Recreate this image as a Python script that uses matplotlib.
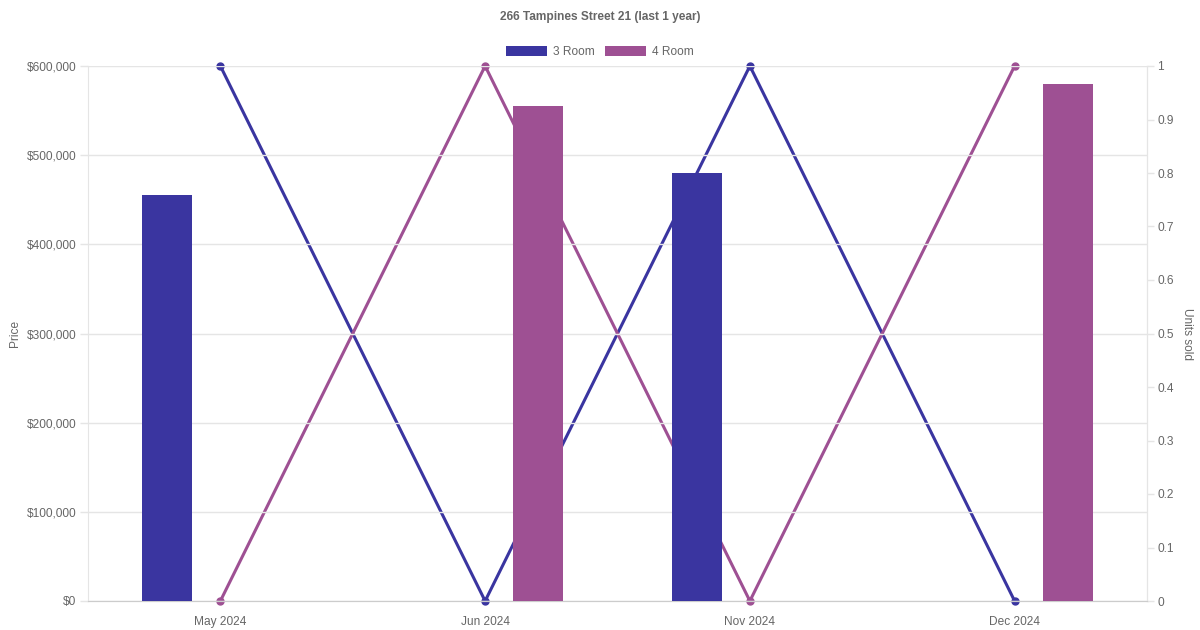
import numpy as np
import matplotlib
matplotlib.use("Agg")
import matplotlib.pyplot as plt
from matplotlib.patches import Patch

plt.rcParams['font.family'] = ['Liberation Sans', 'DejaVu Sans']

# data
months = ['May 2024', 'Jun 2024', 'Nov 2024', 'Dec 2024']
price_3room = [455000, np.nan, 480000, np.nan]
price_4room = [np.nan, 555000, np.nan, 580000]
units_3room = [1, 0, 1, 0]
units_4room = [0, 1, 0, 1]

c3 = '#3a35a0'
c4 = '#9e5093'
txt = '#666666'
grid_c = '#e5e5e5'

fig = plt.figure(figsize=(12, 6.3), dpi=100)
ax = fig.add_axes([88 / 1200, 29 / 630, 1059 / 1200, 535 / 630])
ax2 = ax.twinx()

x = np.arange(len(months))
bw = 50 / 264.5
off = 53 / 264.5

# bars sit on top of the lines in the reference
ax.set_zorder(2)
ax.patch.set_visible(False)
ax2.set_zorder(1)

ax.bar(x - off, price_3room, width=bw, color=c3, zorder=3)
ax.bar(x + off, price_4room, width=bw, color=c4, zorder=3)

ax2.plot(x, units_3room, color=c3, lw=2.2, marker='o', ms=5, zorder=2, clip_on=False)
ax2.plot(x, units_4room, color=c4, lw=2.2, marker='o', ms=5, zorder=2, clip_on=False)

ax.set_xlim(-0.5, 3.5)
ax.set_ylim(0, 600000)
ax2.set_ylim(0, 1)

ax.set_yticks(np.arange(0, 600001, 100000))
ax.set_yticklabels(['$0'] + ['${:,.0f}'.format(v) for v in range(100000, 600001, 100000)])
ax2.set_yticks(np.arange(0, 1.01, 0.1))
ax2.set_yticklabels(['0', '0.1', '0.2', '0.3', '0.4', '0.5', '0.6', '0.7', '0.8', '0.9', '1'])
ax.set_xticks(x)
ax.set_xticklabels(months)

ax.yaxis.grid(True, color=grid_c, lw=1)
ax.set_axisbelow(True)

for a in (ax, ax2):
    a.spines['top'].set_visible(False)
    a.spines['left'].set_color(grid_c)
    a.spines['right'].set_color(grid_c)
    a.spines['bottom'].set_color('#cccccc')
    a.tick_params(colors=txt, labelsize=8.6, width=1)
    a.tick_params(axis='y', color=grid_c)
ax.tick_params(axis='y', length=6, pad=2.5)
ax2.tick_params(axis='y', length=5, pad=2.2)
ax.tick_params(axis='x', length=0, pad=10.5)
ax2.spines['left'].set_visible(False)

ax.set_ylabel('Price', color=txt, fontsize=8.6, labelpad=4)
ax2.set_ylabel('Units sold', color=txt, fontsize=8.6, rotation=270, labelpad=14)

fig.text(0.5, 1 - 17 / 630, '266 Tampines Street 21 (last 1 year)', ha='center', va='center',
         color=txt, fontsize=8.6, fontweight='bold')

handles = [Patch(facecolor=c3, label='3 Room'), Patch(facecolor=c4, label='4 Room')]
fig.legend(handles=handles, loc='center', bbox_to_anchor=(0.5, 1 - 52 / 630), ncol=2,
           frameon=False, fontsize=8.6, labelcolor=txt, handlelength=3.4, handleheight=1.0,
           handletextpad=0.5, columnspacing=0.9)

fig.savefig('out.png', dpi=100)
